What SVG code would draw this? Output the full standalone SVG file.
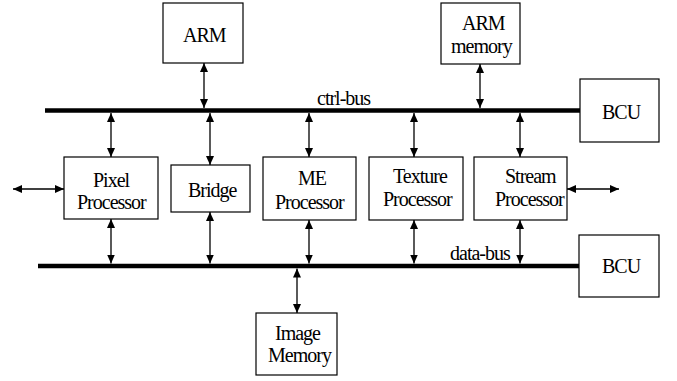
<svg xmlns="http://www.w3.org/2000/svg" width="677" height="381" viewBox="0 0 677 381">
  <defs>
    <marker id="head" markerUnits="userSpaceOnUse" markerWidth="9" markerHeight="8" refX="9" refY="4" orient="auto-start-reverse">
      <path d="M0,0 L9,4 L0,8 z" fill="#000000"/>
    </marker>
  </defs>

  <rect width="677" height="381" fill="#ffffff"/>

  <!-- buses and connectors -->
  <g id="connectors" stroke="#000000" fill="none">
    <g stroke-width="4.5">
      <line x1="45" y1="110.5" x2="580" y2="110.5"/>
      <line x1="38" y1="266" x2="579" y2="266"/>
    </g>
    <g stroke-width="1.3" marker-start="url(#head)" marker-end="url(#head)">
      <line x1="204" y1="63" x2="204" y2="108"/>
      <line x1="480" y1="64" x2="480" y2="108"/>

      <line x1="111" y1="113" x2="111" y2="157"/>
      <line x1="210" y1="113" x2="210" y2="165"/>
      <line x1="309" y1="113" x2="309" y2="157"/>
      <line x1="414" y1="113" x2="414" y2="157"/>
      <line x1="520" y1="113" x2="520" y2="157"/>

      <line x1="111" y1="219" x2="111" y2="263.5"/>
      <line x1="210" y1="212" x2="210" y2="263.5"/>
      <line x1="309" y1="220" x2="309" y2="263.5"/>
      <line x1="414" y1="220" x2="414" y2="263.5"/>
      <line x1="520" y1="220" x2="520" y2="263.5"/>

      <line x1="297" y1="268.5" x2="297" y2="313"/>

      <line x1="13" y1="189" x2="64" y2="189"/>
      <line x1="567" y1="189" x2="619" y2="189"/>
    </g>
  </g>

  <!-- node boxes -->
  <g fill="#ffffff" stroke="#000000" stroke-width="1.2">
    <rect id="arm-box" x="163" y="3" width="80" height="60"/>
    <rect id="arm-memory-box" x="441" y="3" width="79" height="61"/>
    <rect id="bcu-ctrl-box" x="580" y="79" width="79" height="63"/>
    <rect id="pixel-box" x="64" y="157" width="94" height="62"/>
    <rect id="bridge-box" x="171" y="165" width="79" height="47"/>
    <rect id="me-box" x="263" y="157" width="93" height="63"/>
    <rect id="texture-box" x="369" y="157" width="94" height="63"/>
    <rect id="stream-box" x="474" y="157" width="93" height="63"/>
    <rect id="bcu-data-box" x="579" y="235" width="80" height="62"/>
    <rect id="image-memory-box" x="256" y="313" width="81" height="62"/>
  </g>

  <!-- labels: one serif face, slightly tightened, left-aligned at measured starts -->
  <g font-family="Liberation Serif" font-size="20" letter-spacing="-1" fill="#000000">
    <g id="bus-labels">
      <text x="317" y="105" style="font-family:'Liberation Serif',serif">ctrl-bus</text>
      <text x="450" y="260" style="font-family:'Liberation Serif',serif">data-bus</text>
    </g>
    <g id="arm"><text x="183" y="42" style="font-family:'Liberation Serif',serif">ARM</text></g>
    <g id="arm-memory">
      <text x="462" y="30" style="font-family:'Liberation Serif',serif">ARM</text>
      <text x="451" y="53" style="font-family:'Liberation Serif',serif">memory</text>
    </g>
    <g id="bcu-ctrl"><text x="602" y="119" style="font-family:'Liberation Serif',serif">BCU</text></g>
    <g id="pixel-processor">
      <text x="93" y="187" style="font-family:'Liberation Serif',serif">Pixel</text>
      <text x="77" y="209" style="font-family:'Liberation Serif',serif">Processor</text>
    </g>
    <g id="bridge"><text x="188" y="197" style="font-family:'Liberation Serif',serif">Bridge</text></g>
    <g id="me-processor">
      <text x="298" y="185" style="font-family:'Liberation Serif',serif">ME</text>
      <text x="275" y="209" style="font-family:'Liberation Serif',serif">Processor</text>
    </g>
    <g id="texture-processor">
      <text x="393" y="183" style="font-family:'Liberation Serif',serif">Texture</text>
      <text x="383" y="206" style="font-family:'Liberation Serif',serif">Processor</text>
    </g>
    <g id="stream-processor">
      <text x="505" y="183" style="font-family:'Liberation Serif',serif">Stream</text>
      <text x="495" y="206" style="font-family:'Liberation Serif',serif">Processor</text>
    </g>
    <g id="bcu-data"><text x="602" y="273" style="font-family:'Liberation Serif',serif">BCU</text></g>
    <g id="image-memory">
      <text x="275" y="340" style="font-family:'Liberation Serif',serif">Image</text>
      <text x="268" y="362" style="font-family:'Liberation Serif',serif">Memory</text>
    </g>
  </g>
</svg>
